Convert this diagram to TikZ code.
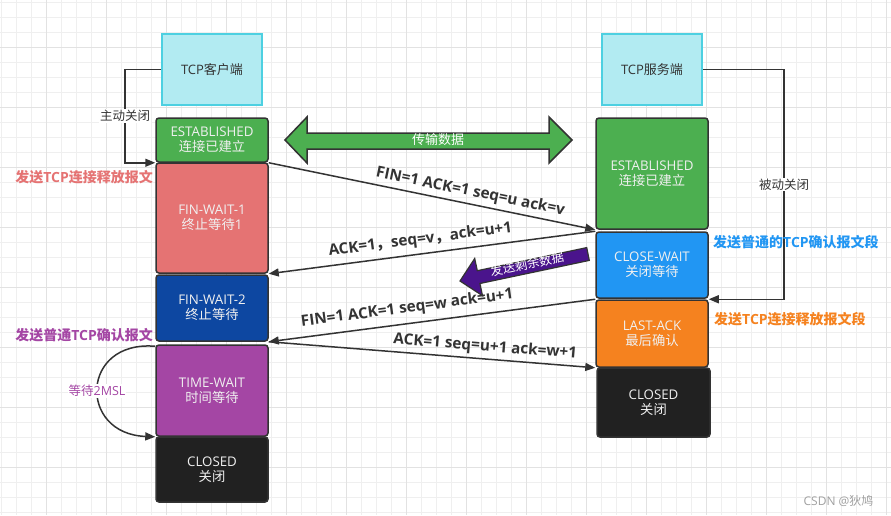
\documentclass[tikz,border=0pt]{standalone}
\usepackage{fontspec}
\setmainfont{Open Sans}
\newfontfamily\cjk{Noto Sans CJK SC}
\usetikzlibrary{arrows.meta,calc}
\definecolor{edge}{HTML}{333333}
\definecolor{estgreen}{HTML}{4CAF50}
\definecolor{finred}{HTML}{E57373}
\definecolor{fintwo}{HTML}{0D47A1}
\definecolor{timepurple}{HTML}{A446A4}
\definecolor{closedark}{HTML}{212121}
\definecolor{cwblue}{HTML}{2196F3}
\definecolor{laorange}{HTML}{F5821F}
\definecolor{cyanfill}{HTML}{B2EBF2}
\definecolor{cyanedge}{HTML}{4DD0E1}
\definecolor{arrowpurple}{HTML}{4A148C}
\definecolor{gridminor}{HTML}{EFEFEF}
\definecolor{gridmajor}{HTML}{E2E2E2}
\definecolor{wmark}{HTML}{A0A0A0}
\tikzset{
  statebox/.style={draw=edge, line width=1.5pt, rounded corners=3pt, text=white!94!black,
    align=center, inner sep=0pt, minimum width=112pt, font=\fontsize{13.3}{16}\selectfont},
  hostbox/.style={draw=cyanedge, fill=cyanfill, line width=2pt, minimum width=100pt,
    minimum height=71pt, inner sep=0pt, text=edge, font=\fontsize{13}{16}\selectfont},
  conn/.style={draw=edge, line width=1.5pt, -{Triangle[length=10pt,width=8pt]}},
  msg/.style={draw=edge, line width=1.5pt, -{Triangle[length=10pt,width=8pt]}},
  msglab/.style={sloped, text=edge, inner sep=0pt, font=\bfseries\fontsize{15.3}{17}\selectfont},
  sidelab/.style={inner sep=0pt, font=\bfseries\fontsize{14}{16}\selectfont},
  connlab/.style={fill=white, text=edge, inner sep=1pt, font=\cjk\fontsize{12.5}{15}\selectfont},
}
\begin{document}
\begin{tikzpicture}[x=1pt,y=-1pt]
\useasboundingbox (0,0) rectangle (891,515);
\fill[white] (0,0) rectangle (891,515);
% grid
\foreach \i in {1,16,...,891} \draw[gridminor, line width=1pt] (\i,0) -- (\i,515);
\foreach \j in {2,17,...,515} \draw[gridminor, line width=1pt] (0,\j) -- (891,\j);
\foreach \i in {46,106,...,891} \draw[gridmajor, line width=1pt] (\i,0) -- (\i,515);
\foreach \j in {47,107,...,515} \draw[gridmajor, line width=1pt] (0,\j) -- (891,\j);

% hosts
\node[hostbox] (cli) at (212,69.5) {TCP{\cjk 客户端}};
\node[hostbox] (srv) at (652,69.5) {TCP{\cjk 服务端}};

% client states
\node[statebox, fill=estgreen, minimum height=44pt] (cest) at (212,140) {ESTABLISHED\\[-1pt]{\cjk 连接已建立}};
\node[statebox, fill=finred, minimum height=110pt] (cfw1) at (212,218) {FIN-WAIT-1\\[-1pt]{\cjk 终止等待}1};
\node[statebox, fill=fintwo, minimum height=66pt] (cfw2) at (212,308) {FIN-WAIT-2\\[-1pt]{\cjk 终止等待}};
\node[statebox, fill=timepurple, minimum height=91pt] (ctw) at (212,390.5) {TIME-WAIT\\[-1pt]{\cjk 时间等待}};
\node[statebox, fill=closedark, minimum height=65pt] (ccl) at (212,469.5) {CLOSED\\[-1pt]{\cjk 关闭}};

% server states
\node[statebox, fill=estgreen, minimum height=111pt] (sest) at (652,173.5) {ESTABLISHED\\[-1pt]{\cjk 连接已建立}};
\node[statebox, fill=cwblue, minimum height=66pt] (scw) at (652,265) {CLOSE-WAIT\\[-1pt]{\cjk 关闭等待}};
\node[statebox, fill=laorange, minimum height=67pt] (sla) at (652,333.5) {LAST-ACK\\[-1pt]{\cjk 最后确认}};
\node[statebox, fill=closedark, minimum height=69pt, minimum width=113pt] (scl) at (653.5,402.5) {CLOSED\\[-1pt]{\cjk 关闭}};

% close connectors
\draw[conn] (cli.west) -- ++(-36,0) |- node[connlab, pos=0.25] {主动关闭} (cest.south west);
\draw[conn] (srv.east) -- ++(81,0) |- node[connlab, pos=0.25] {被动关闭} (sla.north east);

% data transfer double arrow
\filldraw[fill=estgreen, draw=edge, line width=1.5pt, line join=miter]
  (285,140) -- (307,117) -- (307,133) -- (549,133) -- (549,117) -- (572,140)
  -- (549,163) -- (549,149) -- (307,149) -- (307,163) -- cycle;
\node[text=white, font=\cjk\fontsize{13}{16}\selectfont] (data) at (438,140) {传输数据};

% messages
\draw[msg] (cest.south east) -- node[msglab, above=3.5pt, pos=0.61] {FIN=1 ACK=1 seq=u ack=v} (sest.south west);
\draw[msg] (scw.north west) -- node[msglab, above=5.5pt, pos=0.53] {ACK=1{\cjk ，}seq=v{\cjk ，}ack=u+1} (cfw1.south east);
\draw[msg] (sla.north west) -- node[msglab, above=6.5pt, pos=0.57] {FIN=1 ACK=1 seq=w ack=u+1} (cfw2.south east);
\draw[msg] (cfw2.south east) -- node[msglab, above=3.5pt, pos=0.66] {ACK=1 seq=u+1 ack=w+1} (sla.south west);

% remaining data block arrow
\filldraw[fill=arrowpurple, draw=edge, line width=1.2pt, line join=miter]
  (589.3,260.4) -- (586.7,247.6) -- (477.3,270.7) -- (474.7,258.5) -- (460,281)
  -- (482.5,295.7) -- (479.9,283.5) -- cycle;
\node[text=white, rotate=12, inner sep=0pt, font=\cjk\fontsize{12.5}{15}\selectfont] (rest) at (527,264) {发送剩余数据};

% 2MSL loop
\draw[conn] (ctw.north west) ++(0,2) .. controls (80,340) and (78,434) .. (ctw.south west);
\node[fill=white, text=timepurple, inner sep=1pt, font=\fontsize{12.5}{15}\selectfont] (msl) at (97,391) {{\cjk 等待}2MSL};

% side labels
\node[sidelab, text=finred, anchor=east] (l1) at (153,177) {{\cjk 发送}TCP{\cjk 连接释放报文}};
\node[sidelab, text=timepurple, anchor=east] (l2) at (153,335) {{\cjk 发送普通}TCP{\cjk 确认报文}};
\node[sidelab, text=cwblue, anchor=west] (r1) at (713,242) {{\cjk 发送普通的}TCP{\cjk 确认报文段}};
\node[sidelab, text=laorange, anchor=west] (r2) at (714,319) {{\cjk 发送}TCP{\cjk 连接释放报文段}};

% watermark
\node[text=wmark, anchor=east, font=\fontsize{12}{14}\selectfont] (wm) at (877,501) {CSDN @{\cjk 狄鸠}};
\end{tikzpicture}
\end{document}
